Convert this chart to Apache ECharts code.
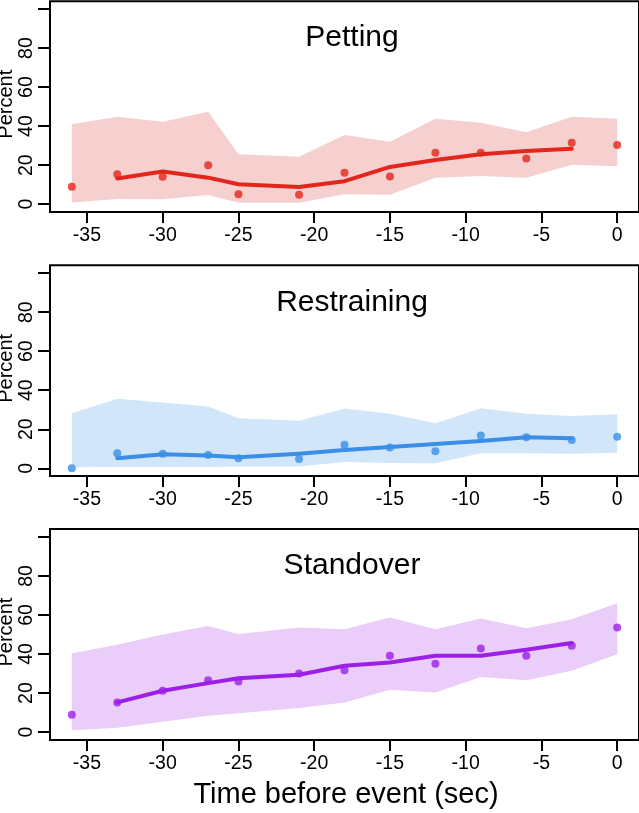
<!DOCTYPE html>
<html>
<head>
<meta charset="utf-8">
<script src="https://cdn.jsdelivr.net/npm/echarts@6/dist/echarts.min.js"></script>
<style>
html,body{margin:0;padding:0;background:#fff;}
#chart{width:639px;height:813px;}
</style>
</head>
<body>
<div id="chart"></div>
<script>
// ---------- data ----------
const timeX = [-36, -33, -30, -27, -25, -21, -18, -15, -12, -9, -6, -3, 0];
const lineX = [-33, -30, -27, -25, -21, -18, -15, -12, -9, -6, -3];
const xTickValues = [-35, -30, -25, -20, -15, -10, -5, 0];
const yTickValues = [0, 20, 40, 60, 80, 100];
const yLabelValues = [0, 20, 40, 60, 80];
const panelTitles = ['Petting', 'Restraining', 'Standover'];

const pettingPoints = [8.9, 15.4, 14.0, 19.9, 5.1, 4.9, 16.1, 14.2, 26.3, 26.3, 23.4, 31.5, 30.3];
const pettingLine   = [13.2, 16.8, 13.6, 10.2, 8.8, 11.8, 19.1, 22.6, 25.6, 27.2, 28.4];
const pettingUpper  = [41.0, 44.8, 42.2, 47.4, 25.6, 24.3, 35.4, 32.0, 43.8, 41.7, 36.9, 44.8, 43.8];
const pettingLower  = [0.9, 2.6, 2.5, 4.7, 0.7, 0.7, 5.1, 4.8, 13.5, 14.4, 13.5, 20.2, 19.5];

const restrainPoints = [0, 7.7, 7.4, 6.8, 5.1, 4.8, 12.1, 10.6, 8.7, 16.8, 15.9, 14.5, 16.1];
const restrainLine   = [5.1, 7.2, 6.5, 5.6, 7.5, 9.4, 10.9, 12.5, 14.0, 15.9, 15.4];
const restrainUpper  = [28.2, 35.6, 33.7, 31.6, 25.6, 24.3, 30.6, 27.9, 23.1, 30.8, 27.9, 26.8, 27.7];
const restrainLower  = [0.5, 0.7, 0.7, 0.7, 0.9, 0.9, 3.2, 2.7, 2.6, 7.7, 7.7, 7.4, 8.0];

const standPoints = [8.9, 15.2, 21.2, 26.6, 25.9, 30.0, 31.7, 39.1, 35.0, 42.8, 39.1, 44.2, 53.6];
const standLine   = [15.2, 21.2, 25.1, 27.6, 29.4, 34.0, 35.7, 39.1, 39.1, 42.2, 45.6];
const standUpper  = [40.4, 44.7, 50.0, 54.4, 50.3, 53.6, 52.7, 58.7, 52.7, 58.2, 53.2, 57.8, 66.0];
const standLower  = [0.9, 2.2, 5.3, 8.4, 9.7, 12.3, 15.2, 21.7, 20.3, 28.2, 26.5, 31.4, 39.9];

// ---------- styling ----------
const FONT = '"Liberation Sans", Arial, Helvetica, sans-serif';
const panels = [
  {title: panelTitles[0], pts: pettingPoints, line: pettingLine, up: pettingUpper, lo: pettingLower,
   color: '#e3261c', band: '#f6cfcf', top: 1.2},
  {title: panelTitles[1], pts: restrainPoints, line: restrainLine, up: restrainUpper, lo: restrainLower,
   color: '#3a8ee8', band: '#d2e6f9', top: 265.3},
  {title: panelTitles[2], pts: standPoints, line: standLine, up: standUpper, lo: standLower,
   color: '#9b1fe6', band: '#eacdf9', top: 529.1}
];
const GRID_LEFT = 50, GRID_H = 210.8;

const grids = [], xAxes = [], yAxes = [], series = [], graphics = [];
panels.forEach((p, i) => {
  grids.push({
    left: GRID_LEFT, right: -2, top: p.top, height: GRID_H,
    show: true, borderColor: '#000', borderWidth: 2, backgroundColor: 'transparent'
  });
  xAxes.push({
    type: 'value', gridIndex: i, min: -37.44, max: 1.44, position: 'bottom',
    splitLine: {show: false}, axisLine: {show: false, onZero: false},
    axisTick: {show: true, length: 11, lineStyle: {color: '#000', width: 2}, customValues: xTickValues},
    axisLabel: {show: true, margin: 14, color: '#000', fontSize: 19.5, fontFamily: FONT, customValues: xTickValues}
  });
  yAxes.push({
    type: 'value', gridIndex: i, min: -4, max: 104, position: 'left',
    splitLine: {show: false}, axisLine: {show: false, onZero: false},
    axisTick: {show: true, length: 12, lineStyle: {color: '#000', width: 2}, customValues: yTickValues},
    axisLabel: {show: true, margin: 13, rotate: 90, color: '#000', fontSize: 19.5, fontFamily: FONT, customValues: yLabelValues}
  });
  const upArr = p.up, loArr = p.lo, bandColor = p.band;
  series.push({
    type: 'custom', xAxisIndex: i, yAxisIndex: i, silent: true, z: 1,
    data: timeX.map((x, k) => [x, loArr[k], upArr[k]]),
    encode: {x: 0, y: [1, 2]},
    renderItem: function (params, api) {
      if (params.dataIndex !== 0) return null;
      const pts = [];
      for (let k = 0; k < timeX.length; k++) pts.push(api.coord([timeX[k], upArr[k]]));
      for (let k = timeX.length - 1; k >= 0; k--) pts.push(api.coord([timeX[k], loArr[k]]));
      return {type: 'polygon', shape: {points: pts}, style: {fill: bandColor, stroke: null}};
    }
  });
  series.push({
    type: 'line', xAxisIndex: i, yAxisIndex: i, symbol: 'none', silent: true,
    lineStyle: {color: p.color, width: 4, cap: 'round', join: 'round'},
    data: lineX.map((x, k) => [x, p.line[k]]), z: 3
  });
  series.push({
    type: 'scatter', xAxisIndex: i, yAxisIndex: i, symbol: 'circle', symbolSize: 8, silent: true,
    itemStyle: {color: p.color},
    data: timeX.map((x, k) => [x, p.pts[k]]), z: 4
  });
  graphics.push({
    type: 'text', x: 352, y: p.top + 37,
    style: {text: p.title, fill: '#000', font: '30px ' + FONT, align: 'center', verticalAlign: 'middle',
            textAlign: 'center', textVerticalAlign: 'middle'}
  });
  graphics.push({
    type: 'text', x: 6, y: p.top + 103, rotation: Math.PI / 2,
    style: {text: 'Percent', fill: '#000', font: '20px ' + FONT, align: 'center', verticalAlign: 'middle',
            textAlign: 'center', textVerticalAlign: 'middle'}
  });
});
graphics.push({
  type: 'text', x: 346, y: 795,
  style: {text: 'Time before event (sec)', fill: '#000', font: '29px ' + FONT, align: 'center', verticalAlign: 'middle',
          textAlign: 'center', textVerticalAlign: 'middle'}
});

const chart = echarts.init(document.getElementById('chart'), null, {renderer: 'canvas'});
chart.setOption({
  animation: false,
  backgroundColor: '#fff',
  grid: grids,
  xAxis: xAxes,
  yAxis: yAxes,
  series: series,
  graphic: graphics
});
</script>
</body>
</html>
